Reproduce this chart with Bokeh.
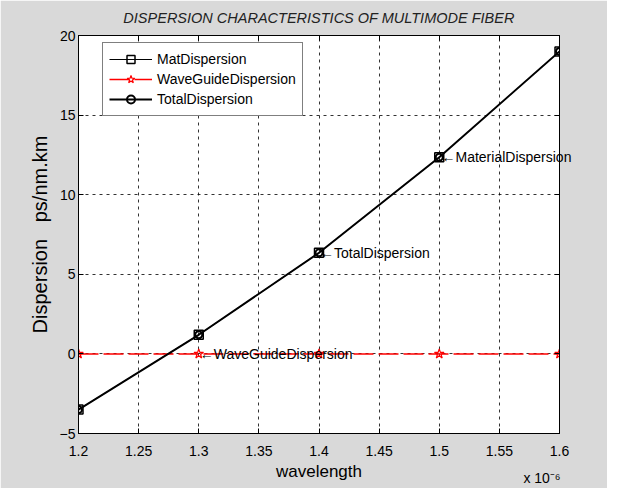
from bokeh.plotting import figure
from bokeh.models import (Range1d, FixedTicker, LinearAxis, Legend, LegendItem, LabelSet,
                          ColumnDataSource, CustomLabelingPolicy)
from bokeh.core.properties import value
from bokeh.embed import file_html
from bokeh.resources import INLINE

# wavelength in units of 1e-6 m
wavelength = [1.2, 1.3, 1.4, 1.5, 1.6]
mat_dispersion = [-3.5, 1.2, 6.35, 12.35, 19.0]
waveguide_dispersion = [0.0, 0.0, 0.0, 0.0, 0.0]
total_dispersion = [-3.5, 1.2, 6.35, 12.35, 19.0]

x_ticks = [1.2, 1.25, 1.3, 1.35, 1.4, 1.45, 1.5, 1.55, 1.6]
x_tick_labels = ["1.2", "1.25", "1.3", "1.35", "1.4", "1.45", "1.5", "1.55", "1.6"]
y_ticks = [-5, 0, 5, 10, 15, 20]

ann_text = ["\u2190MaterialDispersion", "\u2190TotalDispersion", "\u2190WaveGuideDispersion"]
ann_x = [wavelength[3], wavelength[2], wavelength[1]]
ann_y = [mat_dispersion[3], total_dispersion[2], waveguide_dispersion[1]]

scale_text = "x 10\u207b\u2076"

FONT = "Liberation Sans"
BG = "#d9d9d9"
FW, FH = 481, 398
X0, X1, Y0, Y1 = 1.2, 1.6, -5, 20

p = figure(frame_width=FW, frame_height=FH, width=607, height=485,
           output_backend="svg", toolbar_location=None,
           x_range=Range1d(X0, X1), y_range=Range1d(Y0, Y1),
           min_border_left=78, min_border_right=48, min_border_top=35, min_border_bottom=52,
           title="DISPERSION CHARACTERISTICS OF MULTIMODE FIBER")
p.border_fill_color = BG
p.background_fill_color = "white"
p.outline_line_color = "black"
p.outline_line_width = 1

p.title.align = "center"
p.title.text_font = FONT
p.title.text_font_style = "italic"
p.title.text_font_size = "14.5px"
p.title.text_color = "#222222"
p.title.offset = 0
p.title.standoff = 11

no_labels = CustomLabelingPolicy(code="""
for (const i of indices) { indices.unset(i) }
return indices
""")

def style_axis(ax, labels=True):
    ax.axis_line_color = "black"
    ax.major_tick_line_color = "black"
    ax.major_tick_in = 5
    ax.major_tick_out = 0
    ax.minor_tick_line_color = None
    ax.major_label_text_font = FONT
    ax.major_label_text_font_size = "14px" if labels else "1px"
    ax.major_label_text_color = "black"
    ax.axis_label_text_font = FONT
    ax.axis_label_text_font_style = "normal"
    ax.axis_label_text_color = "black"
    if not labels:
        ax.major_label_policy = no_labels

def bare_axis(**kw):
    a = LinearAxis(**kw)
    a.axis_line_color = None
    a.major_tick_line_color = None
    a.minor_tick_line_color = None
    a.major_tick_in = 0
    a.major_tick_out = 0
    a.minor_tick_in = 0
    a.minor_tick_out = 0
    a.major_label_text_font = FONT
    a.major_label_text_font_size = "14px"
    a.major_label_text_color = "black"
    return a

xa = p.xaxis[0]
ya = p.yaxis[0]
xa.ticker = FixedTicker(ticks=x_ticks)
xa.major_label_overrides = {t: l for t, l in zip(x_ticks, x_tick_labels)}
ya.ticker = FixedTicker(ticks=y_ticks)
style_axis(xa)
style_axis(ya)
xa.major_label_standoff = 12
ya.major_label_standoff = 3
xa.axis_label = "wavelength"
xa.axis_label_text_font_size = "17px"
xa.axis_label_standoff = 3
ya.axis_label = "Dispersion\u00a0\u00a0\u00a0ps/nm.km"
ya.axis_label_text_font_size = "20px"
ya.axis_label_standoff = 6

top = LinearAxis(ticker=FixedTicker(ticks=x_ticks))
right = LinearAxis(ticker=FixedTicker(ticks=y_ticks))
style_axis(top, labels=False)
style_axis(right, labels=False)
top.major_label_standoff = 0
right.major_label_standoff = 0
p.add_layout(top, "above")
p.add_layout(right, "right")

# "x 10^-6" scale note: a label-only axis stacked under the x axis, pulled up
x10_pos = X1 - 17.5 * (X1 - X0) / FW
x10_ax = bare_axis(ticker=FixedTicker(ticks=[x10_pos]),
                   major_label_overrides={x10_pos: scale_text})
x10_ax.major_label_standoff = -14
p.add_layout(x10_ax, "below")

p.xgrid.ticker = FixedTicker(ticks=x_ticks)
p.ygrid.ticker = FixedTicker(ticks=y_ticks)
for g in (p.xgrid[0], p.ygrid[0]):
    g.grid_line_color = "black"
    g.grid_line_dash = "3 4"
    g.grid_line_width = 1
    g.grid_line_alpha = 0.8

src = ColumnDataSource(dict(x=wavelength, mat=mat_dispersion, wg=waveguide_dispersion, tot=total_dispersion))

mat_line = p.line("x", "mat", source=src, line_color="black", line_width=1)
mat_mark = p.scatter("x", "mat", source=src, marker="square", size=9,
                     line_color="black", line_width=1.5, fill_color=None)
wg_line = p.line("x", "wg", source=src, line_color="red", line_width=1.5, line_dash="20 5")
wg_mark = p.scatter("x", "wg", source=src, marker="star", size=10,
                    line_color="red", line_width=1.2, fill_color=None)
tot_line = p.line("x", "tot", source=src, line_color="black", line_width=2)
tot_mark = p.scatter("x", "tot", source=src, marker="circle", size=7,
                     line_color="black", line_width=2, fill_color=None)

# annotations that fit inside the frame
asrc = ColumnDataSource(dict(x=ann_x[1:], y=ann_y[1:], t=ann_text[1:]))
p.add_layout(LabelSet(x="x", y="y", text="t", source=asrc, text_font=value(FONT),
                      text_font_size="14px", text_color="black", text_align="left",
                      text_baseline="middle", x_offset=1))

# the material annotation runs past the right edge of the frame, as in the
# reference: draw it as a right-side tick label pulled back to its data point
mat_ax = bare_axis(ticker=FixedTicker(ticks=[ann_y[0]]),
                   major_label_overrides={ann_y[0]: ann_text[0]})
mat_ax.major_label_standoff = -int(round((X1 - ann_x[0]) / (X1 - X0) * FW)) - 2
p.add_layout(mat_ax, "right")

legend = Legend(items=[
    LegendItem(label="MatDispersion", renderers=[mat_line, mat_mark]),
    LegendItem(label="WaveGuideDispersion", renderers=[wg_line, wg_mark]),
    LegendItem(label="TotalDispersion", renderers=[tot_line, tot_mark]),
], location=(24, FH - 9 - 72))
legend.padding = 6
legend.spacing = 0
legend.margin = 0
legend.label_height = 20
legend.glyph_height = 20
legend.glyph_width = 43
legend.label_standoff = 5
legend.label_text_font = FONT
legend.label_text_font_size = "14px"
legend.label_text_color = "black"
legend.border_line_color = "black"
legend.border_line_width = 1
legend.background_fill_color = "white"
legend.background_fill_alpha = 1
p.add_layout(legend)

open("out.html", "w").write(file_html(p, INLINE))
